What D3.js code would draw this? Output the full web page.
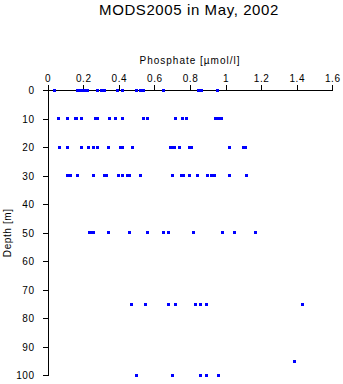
<!DOCTYPE html>
<html>
<head>
<meta charset="utf-8">
<script src="https://cdn.jsdelivr.net/npm/d3@7"></script>
<style>
  html, body { margin: 0; padding: 0; background: #fff; }
  svg { display: block; }
  text { font-family: "Liberation Sans", Arial, Helvetica, sans-serif; fill: #000; }
</style>
</head>
<body>
<svg id="chart" width="343" height="384"></svg>
<script>
// Sampled depths [m] and phosphate concentrations [µmol/l] found at each depth
const depthLevels = [0, 10, 20, 30, 50, 75, 95, 100];
const phosphate0   = [0.037, 0.169, 0.182, 0.199, 0.216, 0.223, 0.282, 0.300, 0.319, 0.392, 0.422, 0.501, 0.520, 0.538, 0.649, 0.846, 0.863, 0.952];
const phosphate10  = [0.060, 0.110, 0.158, 0.163, 0.189, 0.268, 0.279, 0.349, 0.381, 0.420, 0.541, 0.561, 0.718, 0.758, 0.779, 0.944, 0.959, 0.977];
const phosphate20  = [0.069, 0.110, 0.189, 0.229, 0.257, 0.279, 0.341, 0.407, 0.420, 0.479, 0.689, 0.700, 0.711, 0.741, 0.797, 0.809, 1.021, 1.101, 1.113];
const phosphate30  = [0.113, 0.126, 0.167, 0.257, 0.319, 0.332, 0.396, 0.418, 0.448, 0.459, 0.520, 0.702, 0.752, 0.764, 0.797, 0.842, 0.899, 0.919, 0.940, 1.023, 1.118];
const phosphate50  = [0.234, 0.244, 0.257, 0.341, 0.459, 0.561, 0.651, 0.679, 0.820, 0.980, 1.051, 1.169];
const phosphate75  = [0.471, 0.550, 0.679, 0.718, 0.831, 0.859, 0.891, 1.432];
const phosphate95  = [1.389];
const phosphate100 = [0.499, 0.702, 0.859, 0.891, 0.961];
const phosphateByDepth = [phosphate0, phosphate10, phosphate20, phosphate30, phosphate50, phosphate75, phosphate95, phosphate100];

const xTicks = [0, 0.2, 0.4, 0.6, 0.8, 1, 1.2, 1.4, 1.6];
const yTicks = [0, 10, 20, 30, 40, 50, 60, 70, 80, 90, 100];

const titleText = "MODS2005 in May, 2002";
const xLabel = "Phosphate [\u00b5mol/l]";
const yLabel = "Depth [m]";

const points = depthLevels.flatMap((d, i) =>
  phosphateByDepth[i].map(v => ({ depth: d, value: v })));

const svg = d3.select("#chart");
const plotLeft = 47.7, plotRight = 332.3, plotTop = 90.3, plotBottom = 375.3;

const x = d3.scaleLinear().domain([0, 1.6]).range([plotLeft, plotRight]);
const y = d3.scaleLinear().domain([0, 100]).range([plotTop, plotBottom]);

// Title
svg.append("text")
  .attr("x", 189).attr("y", 15)
  .attr("text-anchor", "middle")
  .style("font-size", "15px")
  .style("letter-spacing", "0.6px")
  .text(titleText);

// Phosphate axis along the top
const xAxis = svg.append("g")
  .attr("transform", `translate(0,${plotTop})`)
  .call(d3.axisTop(x).tickValues(xTicks).tickFormat(d3.format("~g")).tickSize(5).tickSizeOuter(0).tickPadding(3));

// Depth axis on the left, increasing downward
const yAxis = svg.append("g")
  .attr("transform", `translate(${plotLeft},0)`)
  .call(d3.axisLeft(y).tickValues(yTicks).tickSize(5).tickSizeOuter(0).tickPadding(8));

[xAxis, yAxis].forEach(g => {
  g.select(".domain").attr("stroke", "#000").attr("stroke-width", 1).attr("shape-rendering", "crispEdges");
  g.selectAll(".tick line").attr("stroke", "#000").attr("shape-rendering", "crispEdges");
  g.selectAll(".tick text")
    .style("font-family", "'Liberation Sans', Arial, sans-serif")
    .style("font-size", "10px")
    .style("letter-spacing", "0.6px")
    .attr("fill", "#000");
});

// Axis titles
svg.append("text")
  .attr("x", 190).attr("y", 64)
  .attr("text-anchor", "middle")
  .style("font-size", "10px")
  .style("letter-spacing", "1px")
  .text(xLabel);

svg.append("text")
  .attr("transform", `translate(11,${(plotTop + plotBottom) / 2}) rotate(-90)`)
  .attr("text-anchor", "middle")
  .style("font-size", "10px")
  .style("letter-spacing", "0.6px")
  .text(yLabel);

// Sample markers
svg.append("g")
  .selectAll("rect")
  .data(points)
  .join("rect")
  .attr("x", d => x(d.value) - 1.5)
  .attr("y", d => y(d.depth) - 1.5)
  .attr("width", 3)
  .attr("height", 3)
  .attr("fill", "#0000ff")
  .attr("shape-rendering", "crispEdges");
</script>
</body>
</html>
